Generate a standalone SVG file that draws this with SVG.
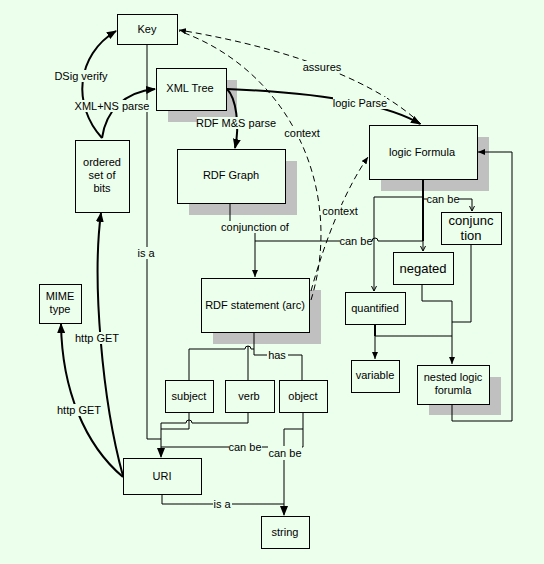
<svg xmlns="http://www.w3.org/2000/svg" width="544" height="564" viewBox="0 0 544 564">
<defs>
<style>
.bg{fill:#ECFEEC}
.box{fill:#ECFEEC;stroke:#000;stroke-width:1}
.sh{fill:#C0C0C0}
.t{font-family:"Liberation Sans",Arial,sans-serif;font-size:11px;fill:#000;text-anchor:middle}
.tb{font-family:"Liberation Sans",Arial,sans-serif;font-size:13px;fill:#000;text-anchor:middle}
.ln{fill:none;stroke:#000;stroke-width:1}
.thk{fill:none;stroke:#000;stroke-width:2}
.dsh{fill:none;stroke:#000;stroke-width:1;stroke-dasharray:6,4}
.lb{fill:#ECFEEC}
</style>
<marker id="ah" markerUnits="userSpaceOnUse" markerWidth="10" markerHeight="8" refX="9" refY="4" orient="auto"><path d="M0,0 L10,4 L0,8 z" fill="#000"/></marker>
<marker id="as" markerUnits="userSpaceOnUse" markerWidth="7" markerHeight="6" refX="7" refY="3" orient="auto"><path d="M0,0 L7,3 L0,6 z" fill="#000"/></marker>
<marker id="tk" markerUnits="userSpaceOnUse" markerWidth="6" markerHeight="6" refX="5" refY="3" orient="auto"><path d="M0,0.5 L5,3 L0,5.5" fill="none" stroke="#000" stroke-width="1"/></marker>
</defs>
<rect x="0" y="0" width="544" height="564" class="bg"/>

<g id="key"><rect class="box" x="117.5" y="14.5" width="60" height="30"/><text class="t" x="147" y="33">Key</text></g>
<g id="xml-tree"><rect class="sh" x="168" y="80" width="69" height="42"/><rect class="box" x="156.5" y="68.5" width="70" height="42"/><text class="t" x="190" y="92">XML Tree</text></g>
<g id="bits"><rect class="box" x="75.5" y="140.5" width="54" height="72"/><text class="t" x="102" y="166">ordered</text><text class="t" x="102" y="179">set of</text><text class="t" x="102" y="192">bits</text></g>
<g id="rdf-graph"><rect class="sh" x="189" y="161" width="108" height="54"/><rect class="box" x="177.5" y="149.5" width="108" height="54"/><text class="t" x="231" y="179">RDF Graph</text></g>
<g id="logic-formula"><rect class="sh" x="381" y="137" width="108" height="54"/><rect class="box" x="369.5" y="125.5" width="108" height="54"/><text class="t" x="422" y="156">logic Formula</text></g>
<g id="mime"><rect class="box" x="39.5" y="284.5" width="42" height="39"/><text class="t" x="60" y="300">MIME</text><text class="t" x="60" y="313">type</text></g>
<g id="rdf-statement"><rect class="sh" x="213" y="290" width="108" height="54"/><rect class="box" x="201.5" y="278.5" width="108" height="54"/><text class="t" x="255" y="309">RDF statement (arc)</text></g>
<g id="conjunction"><rect class="box" x="441.5" y="212.5" width="60" height="32"/><text class="tb" x="471" y="225">conjunc</text><text class="tb" x="471" y="240">tion</text></g>
<g id="negated"><rect class="box" x="393.5" y="252.5" width="60" height="32"/><text class="tb" x="423" y="273">negated</text></g>
<g id="quantified"><rect class="box" x="345.5" y="292.5" width="60" height="32"/><text class="t" x="375" y="312">quantified</text></g>
<g id="variable"><rect class="box" x="351.5" y="360.5" width="48" height="32"/><text class="t" x="375" y="379">variable</text></g>
<g id="nested"><rect class="sh" x="429" y="377" width="72" height="38"/><rect class="box" x="417.5" y="365.5" width="72" height="39"/><text class="t" x="453" y="381">nested logic</text><text class="t" x="453" y="394">forumla</text></g>
<g id="subject"><rect class="box" x="165.5" y="380.5" width="48" height="32"/><text class="t" x="189" y="400">subject</text></g>
<g id="verb"><rect class="box" x="225.5" y="380.5" width="49" height="32"/><text class="t" x="249" y="400">verb</text></g>
<g id="object"><rect class="box" x="279.5" y="380.5" width="48" height="32"/><text class="t" x="303" y="400">object</text></g>
<g id="uri"><rect class="box" x="123.5" y="458.5" width="78" height="36"/><text class="t" x="162" y="480">URI</text></g>
<g id="string"><rect class="box" x="261.5" y="516.5" width="48" height="32"/><text class="t" x="285" y="536">string</text></g>

<g id="connectors">
<!-- thick curves -->
<path class="thk" d="M102,138 C72,105 76,55 116,31" marker-end="url(#ah)"/>
<path class="thk" d="M102,138 C106,110 125,92 155,89" marker-end="url(#ah)"/>
<path class="thk" d="M227,89 C236,98 240,125 235,148" marker-end="url(#ah)"/>
<path class="thk" d="M227,89 C300,92 380,100 420,124" marker-end="url(#ah)"/>
<path class="thk" d="M123,477 C85,445 62,390 61,324" marker-end="url(#ah)"/>
<path class="thk" d="M123,476 C102,400 92,280 101,213" marker-end="url(#ah)"/>
<!-- dashed -->
<path class="dsh" d="M421,124 C380,85 300,50 179,30" marker-end="url(#as)"/>
<path class="dsh" d="M311,300 C345,190 290,70 179,31"/>
<path class="dsh" d="M311,291 C325,240 345,190 368,157" marker-end="url(#as)"/>
<!-- Key is a -->
<path class="ln" d="M147,44 V439 H161"/>
<!-- subject / verb to URI -->
<path class="ln" d="M189,412 V429 H161"/>
<path class="ln" d="M248,412 V423 H192 A3,3 0 0 0 186,423 H161"/>
<path class="ln" d="M161,423 V457" marker-end="url(#ah)"/>
<!-- object can be -->
<path class="ln" d="M303,412 V447 H161"/>
<path class="ln" d="M303,429 H284 V515" marker-end="url(#ah)"/>
<path class="ln" d="M162,494 V504 H284"/>
<!-- RDF statement to triples -->
<path class="ln" d="M254,332 V355 H302 V380"/>
<path class="ln" d="M189,380 V349 H245 A3,3 0 0 1 251,349 H254"/>
<path class="ln" d="M248,380 V346"/>
<!-- RDF Graph conjunction of -->
<path class="ln" d="M230,203 V227 H255 V277" marker-end="url(#as)"/>
<!-- logic Formula can be branches -->
<path class="thk" d="M423,179 V241"/>
<path class="ln" d="M423,241 V251" marker-end="url(#tk)"/>
<path class="ln" d="M423,197 H374 V291" marker-end="url(#tk)"/>
<path class="ln" d="M423,199 H472 V211" marker-end="url(#tk)"/>
<path class="ln" d="M423,241 H378 A3,3 0 0 0 372,241 H255"/>
<!-- to nested -->
<path class="ln" d="M422,284 V301 H452 V364" marker-end="url(#as)"/>
<path class="ln" d="M471,244 V322 H452"/>
<path class="thk" d="M375,324 V336"/>
<path class="ln" d="M375,336 H452"/>
<path class="ln" d="M375,336 V359" marker-end="url(#as)"/>
<path class="ln" d="M452,404 V421 H512 V152 H478" marker-end="url(#as)"/>
</g>

<g id="labels">
<rect class="lb" x="54" y="70" width="55" height="12"/><text class="t" x="81" y="80">DSig verify</text>
<rect class="lb" x="76" y="100" width="72" height="12"/><text class="t" x="112" y="110">XML+NS parse</text>
<rect class="lb" x="197" y="117" width="78" height="12"/><text class="t" x="236" y="127">RDF M&amp;S parse</text>
<rect class="lb" x="333" y="97" width="54" height="12"/><text class="t" x="360" y="107">logic Parse</text>
<rect class="lb" x="302" y="61" width="40" height="12"/><text class="t" x="322" y="71">assures</text>
<rect class="lb" x="284" y="127" width="37" height="12"/><text class="t" x="302" y="137">context</text>
<rect class="lb" x="322" y="205" width="37" height="12"/><text class="t" x="340" y="215">context</text>
<rect class="lb" x="221" y="221" width="68" height="12"/><text class="t" x="255" y="231">conjunction of</text>
<rect class="lb" x="427" y="193" width="32" height="12"/><text class="t" x="443" y="203">can be</text>
<rect class="lb" x="340" y="235" width="32" height="12"/><text class="t" x="356" y="245">can be</text>
<rect class="lb" x="137" y="247" width="19" height="12"/><text class="t" x="146" y="257">is a</text>
<rect class="lb" x="75" y="332" width="44" height="12"/><text class="t" x="97" y="342">http  GET</text>
<rect class="lb" x="56" y="404" width="46" height="12"/><text class="t" x="79" y="414">http  GET</text>
<rect class="lb" x="267" y="349" width="21" height="12"/><text class="t" x="277" y="359">has</text>
<rect class="lb" x="229" y="441" width="33" height="12"/><text class="t" x="245" y="451">can be</text>
<rect class="lb" x="268" y="446" width="34" height="14"/><text class="t" x="285" y="457">can be</text>
<rect class="lb" x="213" y="498" width="19" height="12"/><text class="t" x="222" y="508">is a</text>
</g>
</svg>
